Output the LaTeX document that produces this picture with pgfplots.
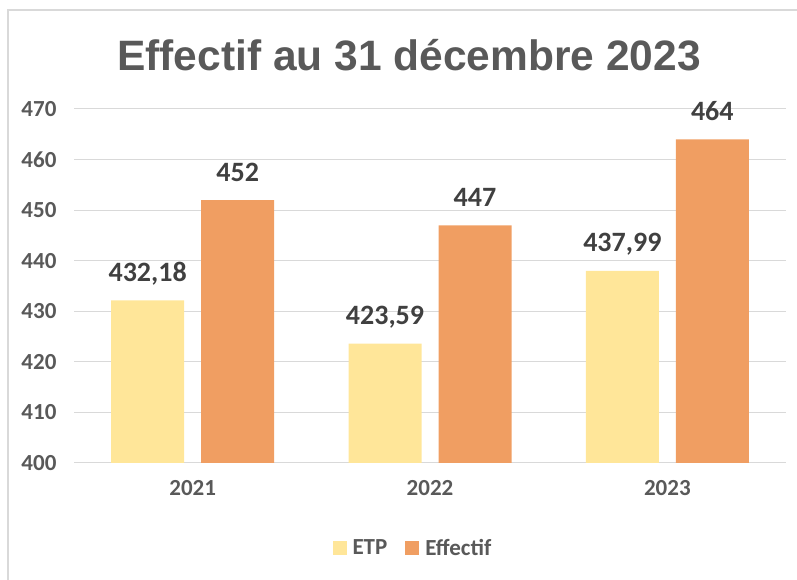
\documentclass[border=0pt]{standalone}
\usepackage{fontspec}
\setmainfont{Carlito}
\newfontfamily\arialfont{Liberation Sans}
\usepackage{pgfplots}
\pgfplotsset{compat=1.18}
\definecolor{etp}{HTML}{FFE699}
\definecolor{eff}{HTML}{F09E62}
\definecolor{txtgray}{HTML}{595959}
\definecolor{lblgray}{HTML}{404040}
\definecolor{gridgray}{HTML}{D9D9D9}
\begin{document}
\begin{tikzpicture}[x=1pt,y=1pt]
\useasboundingbox (0,0) rectangle (797,580);
\draw[gridgray,line width=1.2pt] (8,0) -- (8,570) -- (797,570);
\node[anchor=base,text=txtgray,font=\arialfont\bfseries\fontsize{42.5}{48}\selectfont] at (409,509) {Effectif au 31 décembre 2023};
\begin{axis}[
  at={(74pt,117pt)}, anchor=south west,
  scale only axis, width=712pt, height=354pt,
  ybar=17pt, bar width=73pt,
  xmin=-0.5, xmax=2.5, ymin=400, ymax=470,
  xtick={0,1,2}, xticklabels={2021,2022,2023},
  ytick={400,410,...,470},
  axis line style={draw=none},
  major tick length=0pt,
  ymajorgrids, grid style={gridgray,line width=1pt},
  /pgf/number format/assume math mode=true,
  /pgf/number format/use comma,
  /pgf/number format/fixed,
  /pgf/number format/precision=2,
  /pgf/number format/1000 sep={},
  ticklabel style={text=txtgray,font=\bfseries\fontsize{23}{27}\selectfont},
  yticklabel style={xshift=-14pt},
  xticklabel style={yshift=-14pt},
  nodes near coords,
  every node near coord/.append style={anchor=base,yshift=19pt,text=lblgray,font=\bfseries\fontsize{28}{32}\selectfont},
  legend style={at={(0.476,-0.24)},anchor=center,draw=none,legend columns=2,
    font=\bfseries\fontsize{23}{27}\selectfont,text=txtgray,
    /tikz/every odd column/.append style={column sep=4pt},
    /tikz/every even column/.append style={column sep=16pt}},
  legend image code/.code={\fill[#1] (0pt,-7pt) rectangle (14pt,7pt);},
]
\addplot[fill=etp,draw=none] coordinates {(0,432.18) (1,423.59) (2,437.99)};
\addplot[fill=eff,draw=none] coordinates {(0,452) (1,447) (2,464)};
\legend{ETP,Effectif}
\end{axis}
\end{tikzpicture}
\end{document}
